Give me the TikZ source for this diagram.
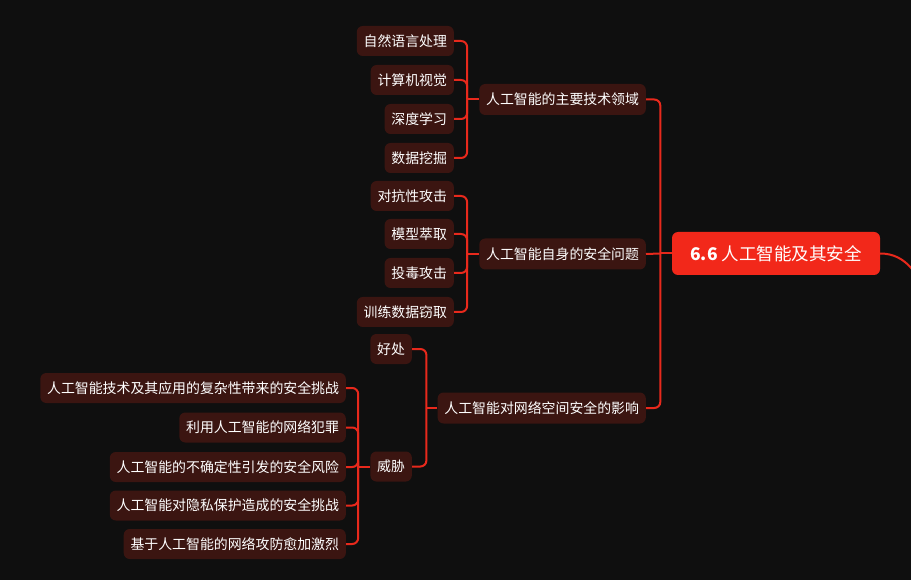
\documentclass[tikz,border=0pt]{standalone}
\usepackage{fontspec}
\setmainfont{Noto Sans CJK SC}
\usetikzlibrary{calc}
\definecolor{bgc}{HTML}{0F0F0F}
\definecolor{nodec}{HTML}{3B1511}
\definecolor{linec}{HTML}{E8291C}
\definecolor{rootc}{HTML}{F2281A}
\tikzset{
  leaf/.style={fill=nodec, text=white, rounded corners=6pt, minimum height=30pt, inner xsep=6.8pt, inner ysep=0pt, anchor=east, font=\fontsize{13.9}{15}\selectfont},
  mid/.style={leaf, minimum height=31pt},
  rootbox/.style={fill=rootc, text=white, rounded corners=6pt, minimum height=43pt, minimum width=208pt, inner sep=0pt, font=\fontsize{17.5}{20}\selectfont},
  edge/.style={draw=linec, line width=2pt, rounded corners=6pt},
}
\begin{document}
\begin{tikzpicture}[x=1pt,y=-1pt]
\useasboundingbox (0,0) rectangle (911,580);
\clip (0,0) rectangle (911,580);
\fill[bgc] (0,0) rectangle (911,580);

% root
\node[rootbox] (root) at (776,253.5) {\textbf{6.6} 人工智能及其安全};
\coordinate (ext) at (930,300);

% level 1
\node[mid] (a) at (646,99.5) {人工智能的主要技术领域};
\node[mid] (b) at (646,254) {人工智能自身的安全问题};
\node[mid] (c) at (646,408) {人工智能对网络空间安全的影响};

% group a
\node[leaf] (a1) at (454,41) {自然语言处理};
\node[leaf] (a2) at (454,80) {计算机视觉};
\node[leaf] (a3) at (454,119) {深度学习};
\node[leaf] (a4) at (454,158) {数据挖掘};

% group b
\node[leaf] (b1) at (454,196) {对抗性攻击};
\node[leaf] (b2) at (454,234) {模型萃取};
\node[leaf] (b3) at (454,273) {投毒攻击};
\node[leaf] (b4) at (454,312) {训练数据窃取};

% group c
\node[leaf] (c1) at (412,349) {好处};
\node[leaf] (c2) at (412,466.5) {威胁};

% group c2
\node[leaf] (d1) at (346,388) {人工智能技术及其应用的复杂性带来的安全挑战};
\node[leaf] (d2) at (346,427.5) {利用人工智能的网络犯罪};
\node[leaf] (d3) at (346,467) {人工智能的不确定性引发的安全风险};
\node[leaf] (d4) at (346,505.5) {人工智能对隐私保护造成的安全挑战};
\node[leaf] (d5) at (346,544) {基于人工智能的网络攻防愈加激烈};

% trunk coordinates
\coordinate (tr) at ($(root.west)+(-11.5,0)$);
\coordinate (ta) at ($(a.west)+(-12,0)$);
\coordinate (tb) at ($(b.west)+(-12,0)$);
\coordinate (tc) at ($(c.west)+(-11,0)$);
\coordinate (td) at ($(c2.west)+(-12,0)$);

% root edges
\draw[edge] (tr) -- (root.west);
\draw[edge] (a.east) -| (tr);
\draw[edge] (b.east) -- (tr);
\draw[edge] (c.east) -| (tr);
\draw[draw=linec, line width=2pt] (root.east) to[out=0,in=115] (ext);

% group a edges
\draw[edge] (ta) -- (a.west);
\foreach \n in {a1,a2,a3,a4} \draw[edge] (\n.east) -| (ta);

% group b edges
\draw[edge] (tb) -- (b.west);
\foreach \n in {b1,b2,b3,b4} \draw[edge] (\n.east) -| (tb);

% group c edges
\draw[edge] (tc) -- (c.west);
\foreach \n in {c1,c2} \draw[edge] (\n.east) -| (tc);

% group d edges
\draw[edge] (td) -- (c2.west);
\foreach \n in {d1,d2,d3,d4,d5} \draw[edge] (\n.east) -| (td);
\end{tikzpicture}
\end{document}
